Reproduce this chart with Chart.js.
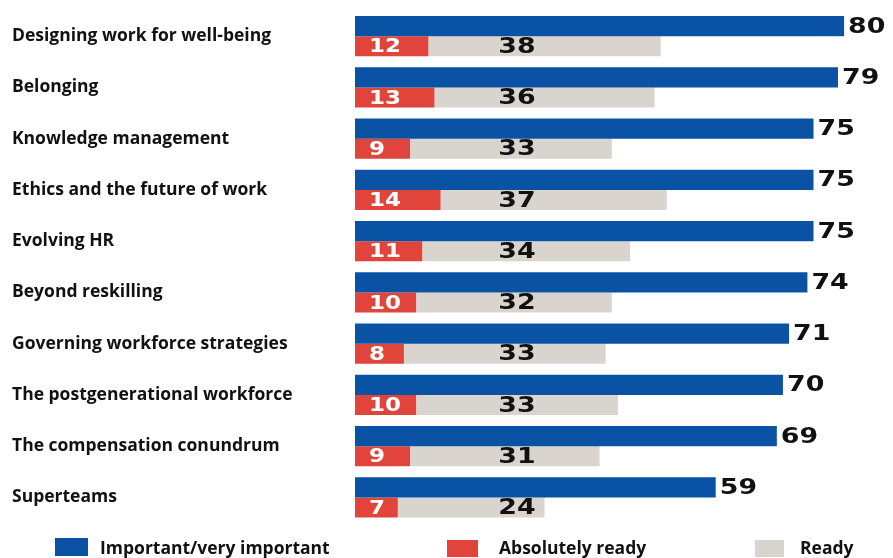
<!DOCTYPE html>
<html>
<head>
<meta charset="utf-8">
<script src="https://cdn.jsdelivr.net/npm/chart.js@4.4.1/dist/chart.umd.min.js"></script>
<style>
  html, body { margin: 0; padding: 0; background: #ffffff; }
  #wrap { width: 893px; height: 558px; position: relative; }
</style>
</head>
<body>
<div id="wrap"><canvas id="c" width="893" height="558"></canvas></div>
<script>
const categories = [
  'Designing work for well-being',
  'Belonging',
  'Knowledge management',
  'Ethics and the future of work',
  'Evolving HR',
  'Beyond reskilling',
  'Governing workforce strategies',
  'The postgenerational workforce',
  'The compensation conundrum',
  'Superteams'
];
const important = [80, 79, 75, 75, 75, 74, 71, 70, 69, 59];
const absolutelyReady = [12, 13, 9, 14, 11, 10, 8, 10, 9, 7];
const ready = [38, 36, 33, 37, 34, 32, 33, 33, 31, 24];
const seriesNames = ['Important/very important', 'Absolutely ready', 'Ready'];

const BLUE = '#0a52a3';
const RED = '#e0443a';
const GRAY = '#d9d4ce';

function drawStretched(ctx, text, x, y, font, color, sx, align) {
  ctx.save();
  ctx.font = font;
  ctx.fillStyle = color;
  ctx.textBaseline = 'middle';
  ctx.textAlign = 'left';
  const w = ctx.measureText(text).width * sx;
  let left = x;
  if (align === 'center') left = x - w / 2;
  ctx.translate(left, y);
  ctx.scale(sx, 1);
  ctx.fillText(text, 0, 0);
  ctx.restore();
}

const labelPlugin = {
  id: 'valueLabels',
  afterDatasetsDraw(chart) {
    const ctx = chart.ctx;
    const area = chart.chartArea;
    const numFont = 'bold 22px "DejaVu Sans"';
    const smallFont = 'bold 20px "DejaVu Sans"';
    chart.data.datasets.forEach((ds, di) => {
      const meta = chart.getDatasetMeta(di);
      meta.data.forEach((el, i) => {
        const v = ds.data[i];
        const txt = String(v);
        if (di === 0) {
          drawStretched(ctx, txt, el.x + 4, el.y + 1, numFont, '#111111', 1.22, 'left');
        } else if (di === 1) {
          drawStretched(ctx, txt, el.base + 14, el.y + 1, smallFont, '#ffffff', 1.15, 'left');
        } else {
          drawStretched(ctx, txt, area.left + 162, el.y + 1, numFont, '#111111', 1.22, 'center');
        }
      });
    });

    // legend
    const items = [
      { sq: [55, 538, 33, 18], tx: 100 },
      { sq: [447, 540, 31, 17], tx: 499 },
      { sq: [755, 540, 29, 17], tx: 800 }
    ];
    ctx.save();
    chart.data.datasets.forEach((ds, di) => {
      const it = items[di];
      ctx.fillStyle = ds.backgroundColor;
      ctx.fillRect(it.sq[0], it.sq[1], it.sq[2], it.sq[3]);
      ctx.font = 'bold 17.5px "Open Sans"';
      ctx.fillStyle = '#111111';
      ctx.textBaseline = 'middle';
      ctx.textAlign = 'left';
      ctx.fillText(ds.label, it.tx, 549);
    });
    ctx.restore();
  }
};

new Chart(document.getElementById('c'), {
  type: 'bar',
  data: {
    labels: categories,
    datasets: [
      { label: seriesNames[0], data: important, backgroundColor: BLUE, stack: 'imp' },
      { label: seriesNames[1], data: absolutelyReady, backgroundColor: RED, stack: 'rdy' },
      { label: seriesNames[2], data: ready, backgroundColor: GRAY, stack: 'rdy' }
    ]
  },
  options: {
    indexAxis: 'y',
    responsive: false,
    animation: false,
    devicePixelRatio: 1,
    layout: { padding: { left: 12, right: 0, top: 6, bottom: 35 } },
    datasets: { bar: { categoryPercentage: 0.79, barPercentage: 1.0, borderWidth: 0 } },
    plugins: {
      legend: { display: false },
      tooltip: { enabled: false },
      title: { display: false }
    },
    scales: {
      x: {
        stacked: true,
        display: false,
        min: 0,
        max: 88
      },
      y: {
        stacked: true,
        grid: { display: false },
        border: { display: false },
        ticks: {
          crossAlign: 'far',
          color: '#111111',
          font: { family: 'Open Sans', weight: 'bold', size: 17.5 },
          padding: 0
        },
        afterFit(scale) { scale.width = 343; }
      }
    }
  },
  plugins: [labelPlugin]
});
</script>
</body>
</html>
